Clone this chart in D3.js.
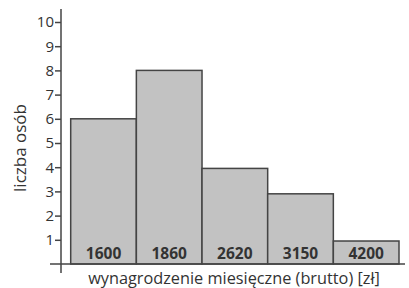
<!DOCTYPE html>
<html>
<head>
<meta charset="utf-8">
<script src="https://cdn.jsdelivr.net/npm/d3@7"></script>
<style>
body{margin:0;background:#fff;}
text{font-family:"Open Sans",sans-serif;fill:#333;}
</style>
</head>
<body>
<svg id="chart"></svg>
<script>
// dane
const categories = ["1600","1860","2620","3150","4200"];
const counts = [6, 8, 3.95, 2.9, 0.95];
const yTicks = [1,2,3,4,5,6,7,8,9,10];

const width = 409, height = 288;
const svg = d3.select("#chart").attr("width",width).attr("height",height);

const x0 = 61, y0 = 264;
const xscale = d3.scaleBand().domain(categories).range([70.7,399]).padding(0);
const yscale = d3.scaleLinear().domain([0,10]).range([y0,22]);

const data = categories.map((c,i)=>({label:c,value:counts[i]}));

svg.selectAll("rect.bar")
    .data(data)
    .enter()
    .append("rect")
    .attr("class","bar")
    .attr("x",d=>xscale(d.label))
    .attr("y",d=>yscale(d.value))
    .attr("width",xscale.bandwidth())
    .attr("height",d=>y0-yscale(d.value))
    .attr("fill","#c2c2c2")
    .attr("stroke","#444")
    .attr("stroke-width",1.5)

svg.selectAll("text.lab")
    .data(data)
    .enter()
    .append("text")
    .attr("class","lab")
    .attr("x",d=>xscale(d.label)+xscale.bandwidth()/2)
    .attr("y",259)
    .attr("text-anchor","middle")
    .attr("font-weight","bold")
    .attr("font-size",15.5)
    .text(d=>d.label)

// os y
const yaxis = d3.axisLeft(yscale).tickValues(yTicks).tickSize(6).tickPadding(1).tickFormat(d3.format("d"))
const yg = svg.append("g").attr("transform",`translate(${x0},0)`).call(yaxis)
yg.select(".domain").remove()
yg.selectAll("line").attr("stroke","#444").attr("stroke-width",1.5)
yg.selectAll("text").attr("font-size",15).attr("fill","#333").attr("font-family","Open Sans")

svg.append("line").attr("x1",x0).attr("x2",x0).attr("y1",9).attr("y2",273)
    .attr("stroke","#444").attr("stroke-width",1.5)
svg.append("line").attr("x1",50).attr("x2",405).attr("y1",y0).attr("y2",y0)
    .attr("stroke","#444").attr("stroke-width",1.5)

svg.append("text")
    .attr("x",234).attr("y",283.5)
    .attr("text-anchor","middle")
    .attr("font-size",16.3)
    .text("wynagrodzenie miesięczne (brutto) [zł]")

svg.append("text")
    .attr("transform","translate(26,148) rotate(-90)")
    .attr("text-anchor","middle")
    .attr("font-size",17)
    .text("liczba osób")
</script>
</body>
</html>
